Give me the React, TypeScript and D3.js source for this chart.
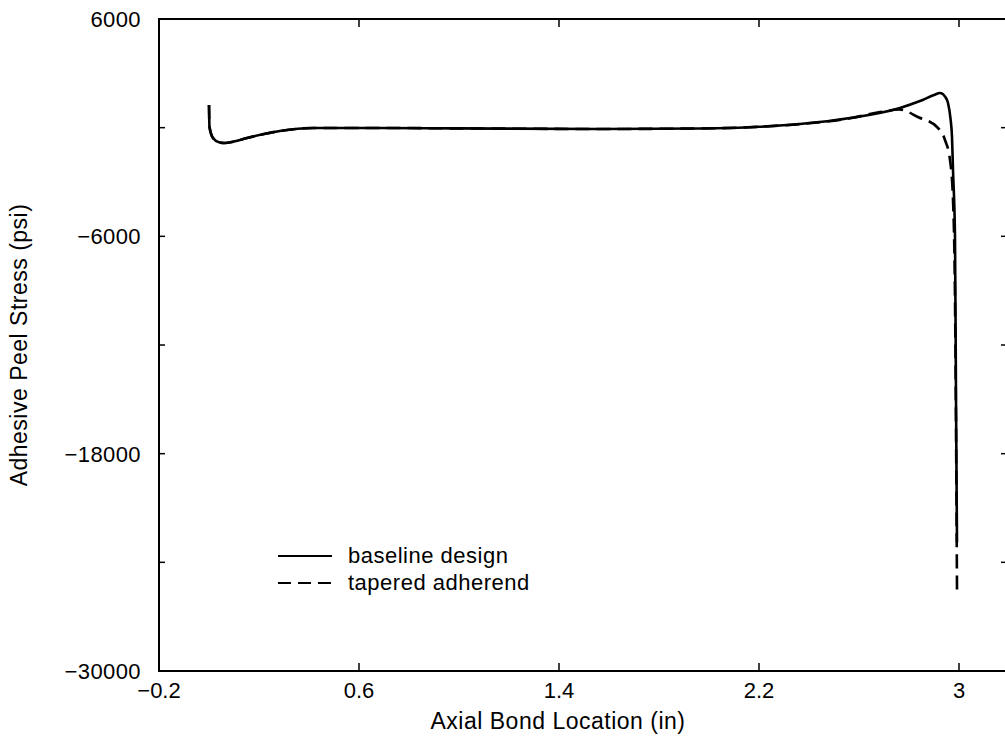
import React from "react";
import * as d3 from "d3";

const baselineX = [0.0, 0.002, 0.016, 0.04, 0.064, 0.1, 0.152, 0.22, 0.284, 0.416, 0.684, 1.0, 1.564, 1.964, 2.2, 2.364, 2.564, 2.764, 2.844, 2.9, 2.924, 2.945, 2.956, 2.966, 2.972, 2.976, 2.984, 2.988, 2.992];
const baselineY = [1250, 40, -570, -800, -846, -760, -570, -350, -183, -18, -18, -40, -73, -45, 50, 200, 530, 1090, 1470, 1800, 1910, 1700, 1360, 500, -515, -2340, -6040, -15000, -22900];

const taperedX = [0.0, 0.002, 0.016, 0.04, 0.064, 0.1, 0.152, 0.22, 0.284, 0.416, 0.684, 1.0, 1.564, 1.964, 2.2, 2.364, 2.564, 2.684, 2.76, 2.84, 2.912, 2.944, 2.964, 2.976, 2.984, 2.992];
const taperedY = [1250, 40, -570, -800, -846, -760, -570, -350, -183, -18, -18, -40, -73, -45, 50, 200, 520, 860, 1000, 560, 37, -680, -1785, -3990, -9500, -25500];

const xTicks = [-0.2, 0.6, 1.4, 2.2, 3];
const xTickLabels = ["\u22120.2", "0.6", "1.4", "2.2", "3"];
const yTicks = [6000, 0, -6000, -12000, -18000, -24000, -30000];
const yLabeled = [6000, -6000, -18000, -30000];
const yTickLabels = ["6000", "\u22126000", "\u221218000", "\u221230000"];
const legendLabels = ["baseline design", "tapered adherend"];

const W = 1005, H = 738;
const left = 159, right = 1009, top = 19, bottom = 671;

export default function App() {
  const x = d3.scaleLinear().domain([-0.2, 3.2]).range([left, right]);
  const y = d3.scaleLinear().domain([-30000, 6000]).range([bottom, top]);
  const line = d3.line<[number, number]>().x(d => x(d[0])).y(d => y(d[1])).curve(d3.curveMonotoneX);
  const base: [number, number][] = baselineX.map((v, i) => [v, baselineY[i]]);
  const tap: [number, number][] = taperedX.map((v, i) => [v, taperedY[i]]);
  const font = "'Liberation Sans', Arial, Helvetica, sans-serif";
  return (
    <svg width={W} height={H} style={{ position: "absolute", left: 0, top: 0, background: "#fff" }} fontFamily={font}>
      <rect x={0} y={0} width={W} height={H} fill="#fff" />
      <rect x={left} y={top} width={right - left} height={bottom - top} fill="none" stroke="#000" strokeWidth={2} />
      {xTicks.map((t, i) => (
        <g key={"xt" + i}>
          <line x1={x(t)} x2={x(t)} y1={bottom} y2={bottom - 8} stroke="#000" strokeWidth={1.5} />
          <line x1={x(t)} x2={x(t)} y1={top} y2={top + 8} stroke="#000" strokeWidth={1.5} />
          <text x={x(t)} y={698} textAnchor="middle" fontSize={22}>{xTickLabels[i]}</text>
        </g>
      ))}
      {yTicks.map((t, i) => (
        <g key={"yt" + i}>
          <line x1={left} x2={left + 6} y1={y(t)} y2={y(t)} stroke="#000" strokeWidth={1.5} />
          <line x1={right} x2={right - 8} y1={y(t)} y2={y(t)} stroke="#000" strokeWidth={1.5} />
        </g>
      ))}
      {yLabeled.map((t, i) => (
        <text key={"yl" + i} x={141} y={y(t)} dy="0.36em" textAnchor="end" fontSize={22} letterSpacing={0.4}>{yTickLabels[i]}</text>
      ))}
      <text x={558} y={729} textAnchor="middle" fontSize={23} letterSpacing={0.5}>Axial Bond Location (in)</text>
      <text transform={`translate(27,${(top + bottom) / 2}) rotate(-90)`} textAnchor="middle" fontSize={23} letterSpacing={0.5}>Adhesive Peel Stress (psi)</text>
      <path d={line(base) || ""} fill="none" stroke="#000" strokeWidth={2.6} />
      <path d={line(tap) || ""} fill="none" stroke="#000" strokeWidth={2.6} strokeDasharray="14,7" />
      <line x1={278} x2={332} y1={556} y2={556} stroke="#000" strokeWidth={2} />
      <text x={348} y={563} fontSize={22} letterSpacing={0.5}>{legendLabels[0]}</text>
      <line x1={278} x2={332} y1={583} y2={583} stroke="#000" strokeWidth={2} strokeDasharray="13,7" />
      <text x={348} y={590} fontSize={22} letterSpacing={0.5}>{legendLabels[1]}</text>
    </svg>
  );
}
